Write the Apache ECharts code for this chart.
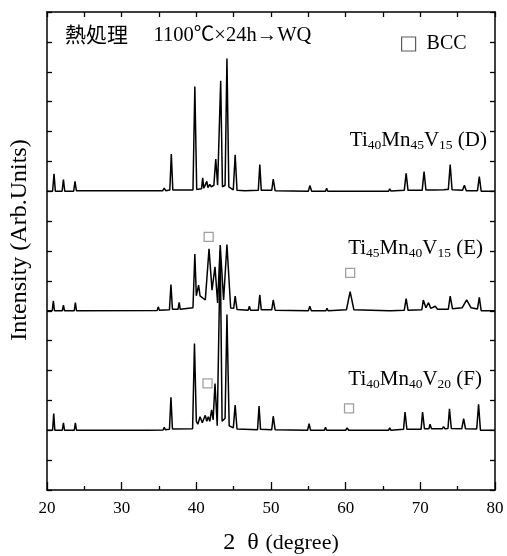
<!DOCTYPE html>
<html><head><meta charset="utf-8">
<script src="https://cdn.jsdelivr.net/npm/echarts@6/dist/echarts.min.js"></script>
<style>html,body{margin:0;padding:0;background:#fff}#c{width:507px;height:556px}</style>
</head><body><div id="c"></div>
<script>
// x axis (2θ, degree) tick values
const xTicks = [20, 30, 40, 50, 60, 70, 80];
// vertical stacking offsets of the three patterns (arb. units)
const offsetD = 10, offsetE = 6, offsetF = 2;
// Ti40Mn45V15 (D): [2θ, intensity]
const patternD = [[20,0],[20.75,0],[20.94,0.58],[21.12,0],[22.02,0],[22.2,0.39],[22.38,0],[23.57,0],[23.75,0.33],[23.93,0.02],[35.5,0.02],[35.7,0.1],[35.9,0.02],[36.45,0.04],[36.65,1.25],[36.85,0.04],[39.55,0.04],[39.8,3.51],[40.05,0.06],[40.7,0.08],[40.85,0.45],[41.0,0.1],[41.25,0.1],[41.4,0.33],[41.55,0.12],[41.8,0.23],[42.0,0.15],[42.35,0.2],[42.6,1.08],[42.85,0.2],[43.05,0.25],[43.26,3.7],[43.5,0.15],[43.85,0.2],[44.1,4.44],[44.35,0.15],[44.95,0.05],[45.2,1.22],[45.45,0.03],[46.5,0.02],[48.3,0.03],[48.5,0.89],[48.7,0.03],[50.1,0.03],[50.3,0.41],[50.55,0.02],[55.0,0],[55.2,0.19],[55.45,0],[57.3,0],[57.45,0.1],[57.6,0],[65.75,0],[65.9,0.08],[66.05,0.01],[67.85,0.03],[68.1,0.6],[68.35,0.03],[70.25,0.03],[70.5,0.66],[70.75,0.04],[71.55,0.04],[71.7,0.1],[71.85,0.04],[73.15,0.05],[73.3,0.1],[73.45,0.06],[73.75,0.06],[74.0,0.89],[74.25,0.05],[75.65,0.03],[75.9,0.2],[76.15,0.02],[77.65,0.02],[77.9,0.49],[78.15,0],[80,0]];
// Ti45Mn40V15 (E)
const patternE = [[20,0],[20.7,0],[20.85,0.33],[21.0,0],[22.05,0],[22.2,0.19],[22.35,0],[23.65,0],[23.8,0.27],[23.95,0],[34.75,0.01],[34.9,0.13],[35.05,0.02],[36.4,0.03],[36.6,0.88],[36.8,0.05],[37.55,0.05],[37.7,0.28],[37.85,0.05],[39.55,0.1],[39.8,1.9],[40.0,0.5],[40.3,0.86],[40.5,0.5],[41.2,0.36],[41.7,2.07],[42.1,0.69],[42.5,1.47],[42.85,0.26],[43.2,2.2],[43.65,0.36],[44.1,2.22],[44.6,0.09],[45.0,0.08],[45.2,0.49],[45.45,0.04],[46.95,0.02],[47.1,0.15],[47.25,0.02],[48.3,0.02],[48.5,0.53],[48.7,0.03],[50.1,0.03],[50.3,0.36],[50.55,0.02],[55.0,0],[55.2,0.15],[55.4,0],[57.35,0],[57.5,0.08],[57.65,0],[60.1,0.03],[60.4,0.4],[60.6,0.64],[60.8,0.4],[61.1,0.03],[65.8,0],[65.95,0.06],[66.1,0],[67.85,0.02],[68.1,0.41],[68.35,0.02],[70.2,0.03],[70.4,0.36],[70.75,0.1],[71.1,0.27],[71.4,0.08],[72.0,0.15],[72.3,0.05],[73.75,0.05],[74.0,0.49],[74.3,0.07],[75.6,0.1],[76.2,0.36],[76.8,0.1],[77.65,0.06],[77.9,0.45],[78.15,0],[80,0]];
// Ti40Mn40V20 (F)
const patternF = [[20,0],[20.75,0],[20.9,0.56],[21.05,0],[22.05,0],[22.2,0.25],[22.35,0],[23.65,0],[23.8,0.25],[23.95,0],[33.15,0],[33.3,0.05],[33.45,0],[35.55,0.01],[35.7,0.1],[35.85,0.02],[36.4,0.03],[36.6,1.1],[36.8,0.04],[39.5,0.05],[39.75,2.9],[40.0,0.3],[40.2,0.2],[40.5,0.45],[40.8,0.25],[41.2,0.5],[41.4,0.3],[41.6,0.45],[41.8,0.3],[42.05,0.68],[42.25,0.35],[42.5,1.56],[42.8,0.15],[43.0,0.2],[43.2,6.0],[43.45,0.3],[43.85,0.4],[44.1,3.87],[44.4,0.15],[44.95,0.08],[45.2,0.84],[45.45,0.04],[48.2,0.02],[48.4,0.81],[48.6,0.03],[50.1,0.02],[50.3,0.47],[50.55,0.02],[54.9,0],[55.1,0.22],[55.3,0],[57.15,0],[57.3,0.1],[57.45,0],[60.0,0],[60.2,0.08],[60.4,0],[65.75,0],[65.9,0.08],[66.05,0],[67.75,0.03],[67.95,0.61],[68.2,0.03],[70.1,0.03],[70.3,0.61],[70.55,0.05],[71.15,0.05],[71.3,0.2],[71.5,0.05],[72.95,0.05],[73.1,0.12],[73.3,0.05],[73.7,0.06],[73.9,0.72],[74.15,0.06],[75.55,0.05],[75.8,0.39],[76.05,0.05],[77.55,0.04],[77.8,0.87],[78.05,0],[80,0]];
// BCC markers [2θ, plotted height]
const bccMarks = [[41.65, 8.47], [60.6, 7.27], [41.5, 3.57], [60.45, 2.73]];
const sampleLabels = ['{m|Ti}{s|40}{m|Mn}{s|45}{m|V}{s|15}{m| (D)}', '{m|Ti}{s|45}{m|Mn}{s|40}{m|V}{s|15}{m| (E)}', '{m|Ti}{s|40}{m|Mn}{s|40}{m|V}{s|20}{m| (F)}'];

const SERIF = "'Liberation Serif','Noto Sans CJK JP',serif";
const chart = echarts.init(document.getElementById('c'), null, {renderer: 'canvas'});
const axisLine = {show: true, onZero: false, lineStyle: {color: '#000', width: 1.5}};
const richSub = {
  m: {fontFamily: SERIF, fontSize: 21, color: '#000'},
  s: {fontFamily: SERIF, fontSize: 13.5, color: '#000', padding: [10, 0, 0, 0]}
};
const lineSeries = (name, data, off) => ({
  name, type: 'line', showSymbol: false, symbol: 'none', silent: true,
  data: data.map(p => [p[0], p[1] + off]),
  lineStyle: {color: '#000', width: 1.5}, z: 3
});
chart.setOption({
  animation: false,
  backgroundColor: '#fff',
  grid: {left: 47, right: 12, top: 12, bottom: 66, containLabel: false},
  xAxis: [{
    type: 'value', min: xTicks[0], max: xTicks[xTicks.length - 1], interval: 10, position: 'bottom',
    axisLine, splitLine: {show: false},
    axisTick: {inside: true, length: 8, lineStyle: {color: '#000', width: 1.3}},
    minorTick: {show: true, splitNumber: 2, length: 4, lineStyle: {color: '#000', width: 1.3}},
    axisLabel: {color: '#000', fontFamily: SERIF, fontSize: 17, margin: 10}
  }, {
    type: 'value', min: 20, max: 80, interval: 5, position: 'top',
    axisLine, splitLine: {show: false},
    axisTick: {inside: true, length: 5, lineStyle: {color: '#000', width: 1.3}},
    axisLabel: {show: false}
  }],
  yAxis: [{
    type: 'value', min: 0, max: 16, interval: 1, position: 'left',
    axisLine, splitLine: {show: false},
    axisTick: {inside: true, length: 5, lineStyle: {color: '#000', width: 1.3}},
    axisLabel: {show: false}
  }, {
    type: 'value', min: 0, max: 16, interval: 1, position: 'right',
    axisLine, splitLine: {show: false},
    axisTick: {inside: true, length: 5, lineStyle: {color: '#000', width: 1.3}},
    axisLabel: {show: false}
  }],
  legend: {
    data: [{name: 'BCC', icon: 'rect'}], left: 396, top: 29, itemWidth: 14, itemHeight: 14, itemGap: 8,
    textStyle: {fontFamily: SERIF, fontSize: 20, color: '#000', padding: [2, 0, 0, 6]},
    itemStyle: {color: 'rgba(0,0,0,0)', borderColor: '#333', borderWidth: 1.2}
  },
  series: [
    lineSeries('D', patternD, offsetD),
    lineSeries('E', patternE, offsetE),
    lineSeries('F', patternF, offsetF),
    {name: 'BCC', type: 'scatter', symbol: 'rect', symbolSize: 9, data: bccMarks, z: 4,
     itemStyle: {color: 'rgba(0,0,0,0)', borderColor: '#888', borderWidth: 1.3}}
  ],
  graphic: [
    {type: 'text', x: 65, y: 36, style: {text: '{j|熱処理}{n|　 1100℃×24h→WQ}', verticalAlign: 'middle',
      rich: {j: {fontFamily: SERIF, fontSize: 21, color: '#000'}, n: {fontFamily: SERIF, fontSize: 20.5, color: '#000'}}}},
    {type: 'text', x: 487, y: 140, style: {text: sampleLabels[0], rich: richSub, align: 'right', verticalAlign: 'middle'}},
    {type: 'text', x: 483, y: 248, style: {text: sampleLabels[1], rich: richSub, align: 'right', verticalAlign: 'middle'}},
    {type: 'text', x: 482, y: 379, style: {text: sampleLabels[2], rich: richSub, align: 'right', verticalAlign: 'middle'}},
    {type: 'text', x: 281, y: 543, style: {
      text: '{a|2  θ}  {b|(degree)}', align: 'center', verticalAlign: 'middle',
      rich: {a: {fontFamily: SERIF, fontSize: 24, color: '#000'}, b: {fontFamily: SERIF, fontSize: 22, color: '#000'}}}},
    {type: 'text', x: 20, y: 240, rotation: Math.PI / 2, style: {
      text: 'Intensity (Arb.Units)', font: "24px " + SERIF, fill: '#000', align: 'center', verticalAlign: 'middle'}}
  ]
});
</script></body></html>
